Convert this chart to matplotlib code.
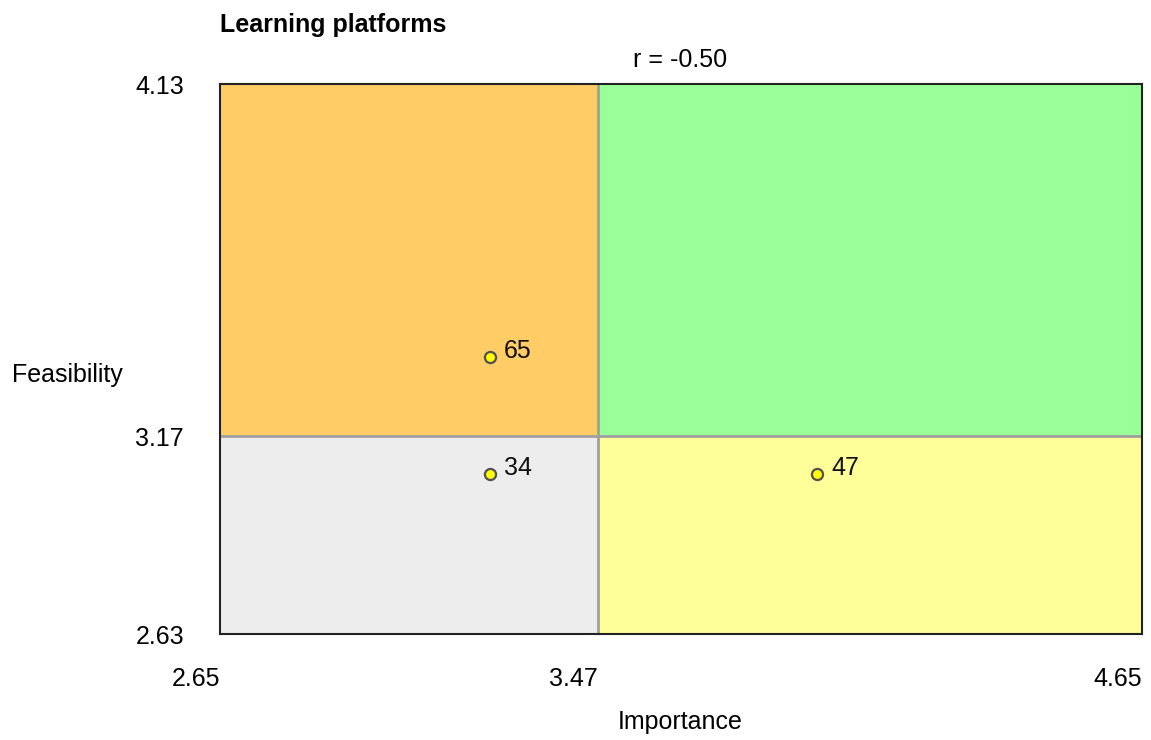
import matplotlib
matplotlib.use("Agg")
from matplotlib import pyplot as plt
from matplotlib.patches import Rectangle

plt.rcParams['font.family'] = ['Liberation Sans', 'DejaVu Sans']

title = 'Learning platforms'
corr_text = 'r = -0.50'
x_min, x_mid, x_max = 2.65, 3.47, 4.65
y_min, y_mid, y_max = 2.63, 3.17, 4.13
importance = [3.236, 3.236, 3.945]
feasibility = [3.385, 3.066, 3.066]
labels = ['65', '34', '47']

fig = plt.figure(figsize=(11.51, 7.4), dpi=100)
ax = fig.add_axes([220/1151, 1-634/740, 922/1151, 550/740])

# quadrants
ax.add_patch(Rectangle((x_min, y_mid), x_mid-x_min, y_max-y_mid, color='#FFCC66', zorder=0))
ax.add_patch(Rectangle((x_mid, y_mid), x_max-x_mid, y_max-y_mid, color='#99FF99', zorder=0))
ax.add_patch(Rectangle((x_min, y_min), x_mid-x_min, y_mid-y_min, color='#EDEDED', zorder=0))
ax.add_patch(Rectangle((x_mid, y_min), x_max-x_mid, y_mid-y_min, color='#FFFF99', zorder=0))
ax.axvline(x_mid, color='#A0A0A0', lw=2, zorder=1)
ax.axhline(y_mid, color='#A0A0A0', lw=2, zorder=1)

ax.plot(importance, feasibility, 'o', ms=8, mfc='#FFFF00', mec='#505050', mew=1.6, zorder=3)
for xi, yi, lab in zip(importance, feasibility, labels):
    ax.annotate(lab, (xi, yi), xytext=(14, 6), textcoords='offset pixels',
                fontsize=18, ha='left', va='center', color='#111111')

ax.set_xlim(x_min, x_max)
ax.set_ylim(y_min, y_max)
ax.set_xticks([x_min, x_mid, x_max])
ax.set_xticklabels(['%.2f' % v for v in [x_min, x_mid, x_max]], ha='right')
ax.set_yticks([y_min, y_mid, y_max])
ax.set_yticklabels(['%.2f' % v for v in [y_min, y_mid, y_max]])
ax.tick_params(length=0, labelsize=18)
ax.tick_params(axis='x', pad=24)
ax.tick_params(axis='y', pad=26)
for s in ax.spines.values():
    s.set_color('#222222')
    s.set_linewidth(1.5)

ax.set_xlabel('Importance', fontsize=18)
ax.set_ylabel('Feasibility', fontsize=18, rotation=0, ha='left', va='center')
ax.yaxis.set_label_coords(-208/922, (634-375)/550)
ax.xaxis.set_label_coords(460/922, -(722-634)/550)
ax.xaxis.label.set_va('center')

fig.text(220/1151, 1-25/740, title, fontsize=18, fontweight='bold', ha='left', va='center')
fig.text(680/1151, 1-60/740, corr_text, fontsize=18, ha='center', va='center')

plt.savefig('out.png', dpi=100)
